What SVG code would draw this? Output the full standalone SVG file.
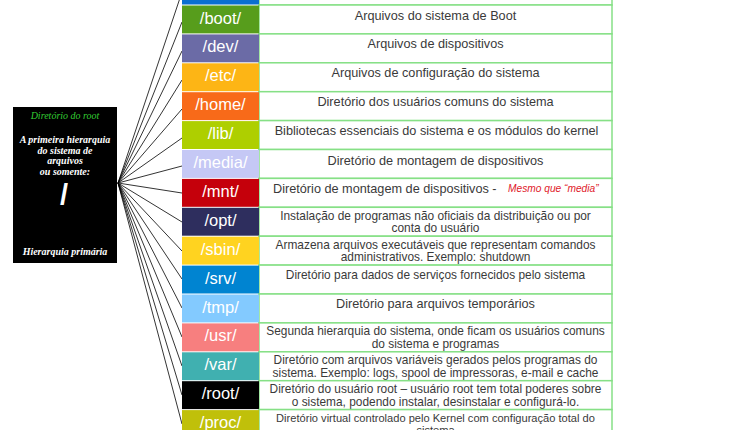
<svg xmlns="http://www.w3.org/2000/svg" width="730" height="430" viewBox="0 0 730 430">
<style>
.cell{stroke:none}
.desc{fill:#fff;stroke:#86e086;stroke-width:1.5}
.lbl{font-family:"Liberation Sans",Arial,sans-serif;font-size:16.5px;fill:#fff;text-anchor:middle}
.txt{font-family:"Liberation Sans",Arial,sans-serif;font-size:12.7px;fill:#3a3a3a;text-anchor:middle}
.sm{font-size:11.9px}
.xs{font-size:11.1px}
.note{font-family:"Liberation Sans",Arial,sans-serif;font-size:10.2px;font-style:italic;fill:#e0202a}
.bx{font-family:"Liberation Serif","Times New Roman",serif;font-size:10px;font-style:italic;font-weight:bold;fill:#fff;text-anchor:middle}
.fan line{stroke:#000;stroke-width:0.8}
</style>
<rect width="730" height="430" fill="#fff"/>

<g id="root-box">
<rect x="13" y="107" width="104" height="156" fill="#000"/>
<text class="bx" x="65" y="119" style="fill:#3c3;font-weight:normal">Diretório do root</text>
<text class="bx" x="65" y="143">A primeira hierarquia</text>
<text class="bx" x="65" y="154">do sistema de</text>
<text class="bx" x="65" y="164">arquivos</text>
<text class="bx" x="65" y="175">ou somente:</text>
<text x="64" y="205" style="font-family:'Liberation Sans',Arial,sans-serif;font-size:29px;font-weight:bold;fill:#fff;text-anchor:middle">/</text>
<text class="bx" x="65" y="255">Hierarquia primária</text>
</g>

<g id="connectors" class="fan">
<line x1="118" y1="183" x2="182" y2="-8"/>
<line x1="118" y1="183" x2="182" y2="22"/>
<line x1="118" y1="183" x2="182" y2="51"/>
<line x1="118" y1="183" x2="182" y2="80"/>
<line x1="118" y1="183" x2="182" y2="109"/>
<line x1="118" y1="183" x2="182" y2="138"/>
<line x1="118" y1="183" x2="182" y2="166"/>
<line x1="118" y1="183" x2="182" y2="193"/>
<line x1="118" y1="183" x2="182" y2="222"/>
<line x1="118" y1="183" x2="182" y2="251"/>
<line x1="118" y1="183" x2="182" y2="279"/>
<line x1="118" y1="183" x2="182" y2="308"/>
<line x1="118" y1="183" x2="182" y2="337"/>
<line x1="118" y1="183" x2="182" y2="366"/>
<line x1="118" y1="183" x2="182" y2="395"/>
<line x1="118" y1="183" x2="182" y2="424"/>
</g>

<g id="row-top">
<rect class="desc" x="259" y="-23.9" width="353" height="28.9"/>
<rect class="cell" x="182" y="-23.4" width="77" height="27.9" fill="#0a6fd0"/>
</g>
<g id="row-boot">
<rect class="desc" x="259" y="5" width="353" height="28.9"/>
<rect class="cell" x="182" y="5.5" width="77" height="27.9" fill="#579d1c"/>
<text class="lbl" x="220.5" y="23.5">/boot/</text>
<text class="txt" x="435.5" y="20">Arquivos do sistema de Boot</text>
</g>
<g id="row-dev">
<rect class="desc" x="259" y="33.9" width="353" height="28.9"/>
<rect class="cell" x="182" y="34.4" width="77" height="27.9" fill="#6b6ba6"/>
<text class="lbl" x="220.5" y="52.4">/dev/</text>
<text class="txt" x="435.5" y="48.4">Arquivos de dispositivos</text>
</g>
<g id="row-etc">
<rect class="desc" x="259" y="62.8" width="353" height="28.9"/>
<rect class="cell" x="182" y="63.3" width="77" height="27.9" fill="#fdb515"/>
<text class="lbl" x="220.5" y="81.3">/etc/</text>
<text class="txt" x="435.5" y="77.3">Arquivos de configuração do sistema</text>
</g>
<g id="row-home">
<rect class="desc" x="259" y="91.7" width="353" height="28.9"/>
<rect class="cell" x="182" y="92.2" width="77" height="27.9" fill="#f86a19"/>
<text class="lbl" x="220.5" y="110.2">/home/</text>
<text class="txt" x="435.5" y="106.2">Diretório dos usuários comuns do sistema</text>
</g>
<g id="row-lib">
<rect class="desc" x="259" y="120.6" width="353" height="28.9"/>
<rect class="cell" x="182" y="121.1" width="77" height="27.9" fill="#aecf00"/>
<text class="lbl" x="220.5" y="139.1">/lib/</text>
<text class="txt" x="436.5" y="135.1">Bibliotecas essenciais do sistema e os módulos do kernel</text>
</g>
<g id="row-media">
<rect class="desc" x="259" y="149.5" width="353" height="28.9"/>
<rect class="cell" x="182" y="150" width="77" height="27.9" fill="#c5c8f5"/>
<text class="lbl" x="220.5" y="168">/media/</text>
<text class="txt" x="435.5" y="164.5">Diretório de montagem de dispositivos</text>
</g>
<g id="row-mnt">
<rect class="desc" x="259" y="178.4" width="353" height="28.9"/>
<rect class="cell" x="182" y="178.9" width="77" height="27.9" fill="#c5000b"/>
<text class="lbl" x="220.5" y="196.9">/mnt/</text>
<text class="txt" x="273" y="193.2" style="text-anchor:start">Diretório de montagem de dispositivos -</text>
<text class="note" x="508" y="192">Mesmo que “media”</text>
</g>
<g id="row-opt">
<rect class="desc" x="259" y="207.3" width="353" height="28.9"/>
<rect class="cell" x="182" y="207.8" width="77" height="27.9" fill="#2e2e5e"/>
<text class="lbl" x="220.5" y="225.8">/opt/</text>
<text class="txt sm" x="435.5" y="219.6">Instalação de programas não oficiais da distribuição ou por</text>
<text class="txt sm" x="435.5" y="232.3">conta do usuário</text>
</g>
<g id="row-sbin">
<rect class="desc" x="259" y="236.2" width="353" height="28.9"/>
<rect class="cell" x="182" y="236.7" width="77" height="27.9" fill="#ffd320"/>
<text class="lbl" x="220.5" y="254.7">/sbin/</text>
<text class="txt sm" x="435.5" y="248.5">Armazena arquivos executáveis que representam comandos</text>
<text class="txt sm" x="435.5" y="261.2">administrativos. Exemplo: shutdown</text>
</g>
<g id="row-srv">
<rect class="desc" x="259" y="265.1" width="353" height="28.9"/>
<rect class="cell" x="182" y="265.6" width="77" height="27.9" fill="#0084d1"/>
<text class="lbl" x="220.5" y="283.6">/srv/</text>
<text class="txt sm" x="435.5" y="279.1">Diretório para dados de serviços fornecidos pelo sistema</text>
</g>
<g id="row-tmp">
<rect class="desc" x="259" y="294" width="353" height="28.9"/>
<rect class="cell" x="182" y="294.5" width="77" height="27.9" fill="#83caff"/>
<text class="lbl" x="220.5" y="312.5">/tmp/</text>
<text class="txt" x="435.5" y="307.5">Diretório para arquivos temporários</text>
</g>
<g id="row-usr">
<rect class="desc" x="259" y="322.9" width="353" height="28.9"/>
<rect class="cell" x="182" y="323.4" width="77" height="27.9" fill="#f77f7f"/>
<text class="lbl" x="220.5" y="341.4">/usr/</text>
<text class="txt sm" x="435.5" y="335.2">Segunda hierarquia do sistema, onde ficam os usuários comuns</text>
<text class="txt sm" x="435.5" y="347.9">do sistema e programas</text>
</g>
<g id="row-var">
<rect class="desc" x="259" y="351.8" width="353" height="28.9"/>
<rect class="cell" x="182" y="352.3" width="77" height="27.9" fill="#40b0b0"/>
<text class="lbl" x="220.5" y="370.3">/var/</text>
<text class="txt sm" x="435.5" y="364.1">Diretório com arquivos variáveis gerados pelos programas do</text>
<text class="txt sm" x="435.5" y="376.8">sistema. Exemplo: logs, spool de impressoras, e-mail e cache</text>
</g>
<g id="row-root">
<rect class="desc" x="259" y="380.7" width="353" height="28.9"/>
<rect class="cell" x="182" y="381.2" width="77" height="27.9" fill="#000"/>
<text class="lbl" x="220.5" y="399.2">/root/</text>
<text class="txt sm" x="435.5" y="393">Diretório do usuário root – usuário root tem total poderes sobre</text>
<text class="txt sm" x="435.5" y="405.7">o sistema, podendo instalar, desinstalar e configurá-lo.</text>
</g>
<g id="row-proc">
<rect class="desc" x="259" y="409.6" width="353" height="28.9"/>
<rect class="cell" x="182" y="410.1" width="77" height="27.9" fill="#c0c00a"/>
<text class="lbl" x="220.5" y="428.1">/proc/</text>
<text class="txt xs" x="435.5" y="422">Diretório virtual controlado pelo Kernel com configuração total do</text>
<text class="txt xs" x="435.5" y="434.4">sistema</text>
</g>
</svg>
